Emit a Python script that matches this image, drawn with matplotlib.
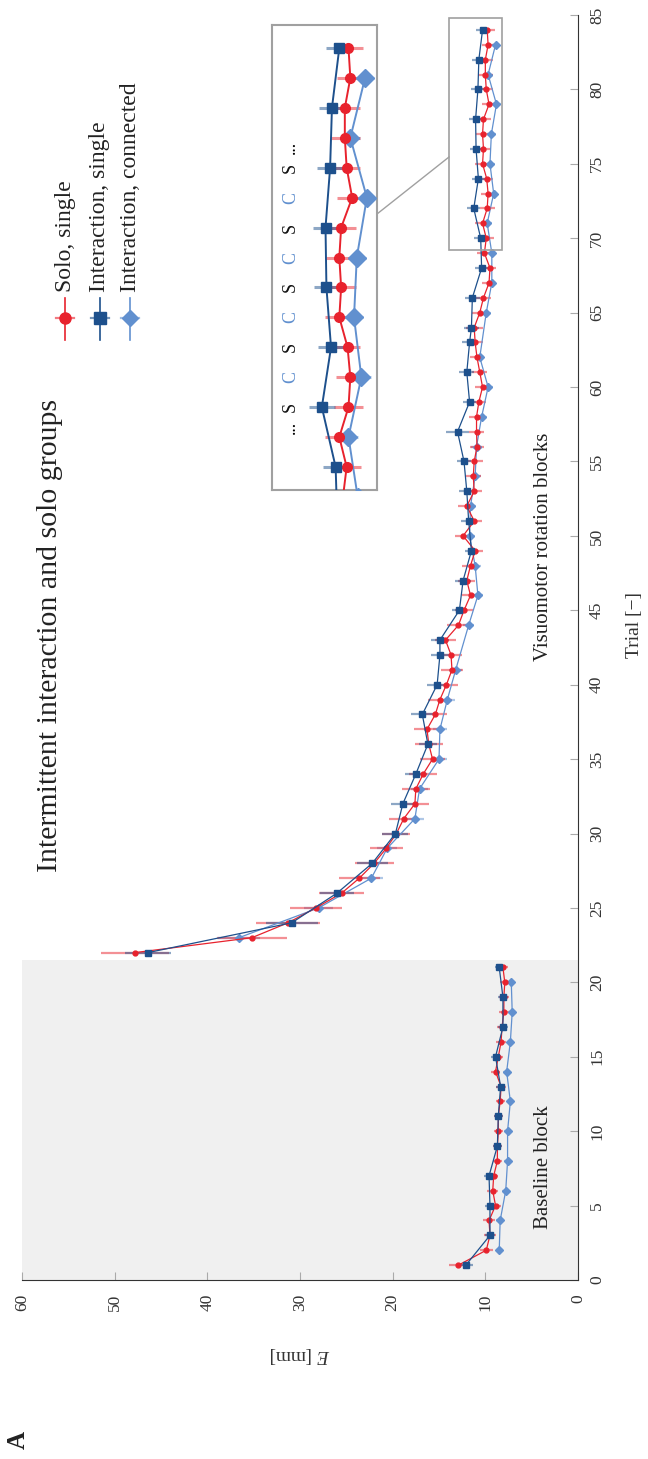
import matplotlib
matplotlib.use("Agg")
import matplotlib.pyplot as plt
from matplotlib.patches import Rectangle
from matplotlib.lines import Line2D

plt.rcParams['font.family'] = ['Liberation Serif', 'DejaVu Serif']
plt.rcParams['mathtext.fontset'] = 'custom'
plt.rcParams['mathtext.it'] = 'Liberation Serif:italic'
plt.rcParams['mathtext.rm'] = 'Liberation Serif'

# ---- data (E in mm per trial) ----
solo_trials = list(range(1, 85))
solo_E = [12.9, 9.9, 9.5, 9.6, 8.9, 9.2, 9.1, 8.7, 8.7, 8.6, 8.6, 8.4, 8.3, 8.9, 8.6, 8.3, 8.2, 8.0, 8.0, 7.9, 8.1,
          47.8, 35.2, 31.3, 28.3, 25.5, 23.6, 22.0, 20.7, 19.6, 18.8, 17.6, 17.5, 16.7, 15.7, 16.1, 16.3, 15.4, 14.9,
          14.2, 13.6, 13.7, 14.3, 12.9, 12.3, 11.6, 12.0, 11.6, 11.1, 12.4, 11.2, 12.0, 11.2, 11.3, 11.2, 10.9, 10.95,
          10.95, 10.7, 10.3, 10.6, 10.9, 11.1, 11.2, 10.6, 10.2, 9.6, 9.5, 10.1, 9.9, 10.3, 9.8, 9.7, 9.85, 10.3, 10.2,
          10.3, 10.2, 9.6, 9.9, 10.0, 10.0, 9.7, 9.8]
solo_err = [1.0, 0.7, 0.6, 0.6, 0.6, 0.6, 0.5, 0.5, 0.5, 0.5, 0.5, 0.5, 0.5, 0.5, 0.5, 0.5, 0.5, 0.5, 0.5, 0.5, 0.5,
            3.7, 3.8, 3.5, 2.8, 2.4, 2.2, 2.1, 1.8, 1.5, 1.6, 1.5, 1.5, 1.5, 1.4, 1.5, 1.4, 1.3, 1.3, 1.3, 1.2, 1.2,
            1.1, 1.2, 1.0, 0.9, 0.9, 0.9, 0.8, 0.9, 0.8, 0.9, 0.8, 0.8, 0.9, 0.8, 0.8, 0.8, 0.8, 0.8, 0.8, 0.8, 0.8,
            0.9, 0.8, 0.8, 0.8, 0.7, 0.8, 0.8, 0.8, 0.8, 0.8, 0.7, 0.8, 0.8, 0.7, 0.8, 0.8, 0.7, 0.8, 0.8, 0.7, 0.8]

single_trials = [1, 3, 5, 7, 9, 11, 13, 15, 17, 19, 21,
                 22, 24, 26, 28, 30, 32, 34, 36, 38, 40, 42,
                 43, 45, 47, 49, 51, 53, 55, 57, 59, 61, 63,
                 64, 66, 68, 70, 72, 74, 76, 78, 80, 82, 84]
single_E = [12.1, 9.5, 9.5, 9.6, 8.7, 8.6, 8.35, 8.9, 8.1, 8.1, 8.5,
            46.4, 30.9, 26.0, 22.2, 19.7, 18.9, 17.5, 16.2, 16.8, 15.2, 14.9,
            14.9, 12.8, 12.4, 11.5, 11.8, 12.0, 12.3, 13.0, 11.7, 12.0, 11.7,
            11.5, 11.4, 10.4, 10.5, 11.25, 10.75, 11.0, 11.05, 10.8, 10.7, 10.3]
single_err = [0.8, 0.5, 0.5, 0.5, 0.5, 0.5, 0.5, 0.5, 0.5, 0.5, 0.5,
              2.5, 2.8, 1.8, 1.7, 1.4, 1.3, 1.2, 1.0, 1.2, 1.1, 1.0,
              1.0, 0.8, 0.9, 0.7, 0.8, 0.8, 0.8, 1.2, 0.7, 0.8, 0.8,
              0.8, 0.8, 0.7, 0.7, 0.7, 0.7, 0.7, 0.7, 0.7, 0.7, 0.7]

conn_trials = [2, 4, 6, 8, 10, 12, 14, 16, 18, 20,
               23, 25, 27, 29, 31, 33, 35, 37, 39, 41,
               44, 46, 48, 50, 52, 54, 56, 58, 60, 62,
               65, 67, 69, 71, 73, 75, 77, 79, 81, 83]
conn_E = [8.5, 8.4, 7.8, 7.6, 7.6, 7.3, 7.7, 7.3, 7.1, 7.2,
          36.6, 28.0, 22.3, 20.6, 17.6, 17.1, 15.0, 14.9, 14.1, 13.2,
          11.8, 10.8, 11.1, 11.7, 11.6, 11.1, 10.95, 10.4, 9.7, 10.6,
          9.9, 9.3, 9.3, 9.8, 9.1, 9.5, 9.35, 8.8, 9.7, 8.9]
conn_err = [0.4, 0.4, 0.4, 0.4, 0.4, 0.4, 0.4, 0.4, 0.4, 0.4,
            2.3, 1.6, 1.3, 1.1, 1.0, 0.9, 0.9, 0.8, 0.8, 0.7,
            0.6, 0.6, 0.6, 0.6, 0.6, 0.6, 0.6, 0.6, 0.5, 0.5,
            0.5, 0.5, 0.5, 0.5, 0.5, 0.5, 0.5, 0.5, 0.5, 0.5]

series_names = ['Solo, single', 'Interaction, single', 'Interaction, connected']
RED, DARK, LIGHT = '#e8222d', '#1d508c', '#6190cf'

baseline_end = 21.5
zoom_E = (13.96, 8.25)
zoom_trials = (69.23, 84.77)
seq_trials = [72, 73, 74, 75, 76, 77, 78, 79, 80]
seq_labels = ['S', 'C', 'S', 'C', 'S', 'C', 'S', 'C', 'S']

W, H = 648, 1459
fig = plt.figure(figsize=(W / 100, H / 100), dpi=100)


def fx(x):
    return x / W


def fy(y):
    return 1 - y / H


def draw(a, trials, vals, errs, color, marker, ms, lw, elw):
    # baseline and rotation blocks are drawn as separate lines
    for part in (lambda t: t <= baseline_end, lambda t: t > baseline_end):
        idx = [i for i, t in enumerate(trials) if part(t)]
        tt = [trials[i] for i in idx]
        vv = [vals[i] for i in idx]
        ee = [errs[i] for i in idx]
        a.errorbar(vv, tt, xerr=ee, fmt='none', ecolor=color, elinewidth=elw, alpha=0.5, zorder=2)
        a.plot(vv, tt, color=color, lw=lw, marker=marker, ms=ms, mfc=color, mec=color, zorder=3)


ax = fig.add_axes([fx(22), fy(1280), fx(578) - fx(22), fy(15) - fy(1280)])
ax.axhspan(0, baseline_end, color='#f0f0f0', lw=0, zorder=0)
draw(ax, conn_trials, conn_E, conn_err, LIGHT, 'D', 4.5, 0.9, 1.6)
draw(ax, solo_trials, solo_E, solo_err, RED, 'o', 3.5, 0.9, 1.6)
draw(ax, single_trials, single_E, single_err, DARK, 's', 4.0, 0.9, 1.6)
ax.set_xlim(60, 0)
ax.set_ylim(0, 85)
for s in ('top', 'left'):
    ax.spines[s].set_visible(False)
ax.yaxis.tick_right()
ax.spines['right'].set_color('#333333')
ax.spines['bottom'].set_color('#333333')
ax.set_xticks(range(0, 61, 10))
ax.set_yticks(range(0, 86, 5))
ax.tick_params(direction='in', length=6, color='#aaaaaa', labelsize=12.5, labelcolor='#333333')
ax.tick_params(axis='y', pad=8)
ax.tick_params(axis='x', pad=10)
for lab in ax.get_xticklabels():
    lab.set_rotation(90)
    lab.set_va('top')
    lab.set_ha('center')
for lab in ax.get_yticklabels():
    lab.set_rotation(90)
    lab.set_va('center')
    lab.set_ha('left')

ax.add_patch(Rectangle((zoom_E[1], zoom_trials[0]), zoom_E[0] - zoom_E[1], zoom_trials[1] - zoom_trials[0],
                       fill=False, ec='#a0a0a0', lw=1.2, zorder=4))

# zoomed inset
axi = fig.add_axes([fx(272), fy(490), fx(377) - fx(272), fy(25) - fy(490)])
draw(axi, conn_trials, conn_E, conn_err, LIGHT, 'D', 9, 1.4, 2.2)
draw(axi, solo_trials, solo_E, solo_err, RED, 'o', 7, 1.4, 2.2)
draw(axi, single_trials, single_E, single_err, DARK, 's', 7.5, 1.4, 2.2)
axi.set_xlim(*zoom_E)
axi.set_ylim(*zoom_trials)
axi.set_xticks([])
axi.set_yticks([])
for s in axi.spines.values():
    s.set_color('#a0a0a0')
    s.set_linewidth(1.5)
for t, lab in zip(seq_trials, seq_labels):
    axi.text(12.95, t, lab, rotation=90, ha='center', va='center', fontsize=13,
             color='#111111' if lab == 'S' else LIGHT)
axi.text(12.95, seq_trials[0] - 0.45, '...', rotation=90, ha='center', va='top', fontsize=13)
axi.text(12.95, seq_trials[-1] + 0.45, '...', rotation=90, ha='center', va='bottom', fontsize=13)

fig.add_artist(Line2D([fx(377), fx(449)], [fy(214), fy(157)], color='#a0a0a0', lw=1.0))

# legend drawn by hand (rotated figure)
leg_x = [65, 100, 130]
leg_style = [(RED, 'o', 8), (DARK, 's', 8), (LIGHT, 'D', 8)]
for x, name, (c, m, ms) in zip(leg_x, series_names, leg_style):
    fig.add_artist(Line2D([fx(x), fx(x)], [fy(298), fy(340)], color=c, lw=1.2))
    fig.add_artist(Line2D([fx(x - 9), fx(x + 9)], [fy(318), fy(318)], color=c, lw=1.6, alpha=0.6))
    fig.add_artist(Line2D([fx(x)], [fy(318)], color=c, marker=m, ms=ms, mfc=c, mec=c))
    fig.text(fx(x), fy(292), name, rotation=90, ha='center', va='bottom', fontsize=17, color='#222222')

fig.text(fx(50), fy(635), 'Intermittent interaction and solo groups', rotation=90,
         ha='center', va='center', fontsize=21.5, color='#222222')
fig.text(fx(543), fy(547), 'Visuomotor rotation blocks', rotation=90,
         ha='center', va='center', fontsize=15, color='#222222')
fig.text(fx(543), fy(1167), 'Baseline block', rotation=90,
         ha='center', va='center', fontsize=15, color='#222222')
fig.text(fx(635), fy(625), 'Trial [\u2212]', rotation=90, ha='center', va='center', fontsize=14, color='#333333')
fig.text(fx(300), fy(1355), '$E$ [mm]', rotation=180, ha='center', va='center', fontsize=14, color='#333333')
fig.text(fx(18), fy(1440), 'A', rotation=90, ha='center', va='center', fontsize=18, fontweight='bold',
         color='#222222')

fig.savefig('out.png', dpi=100)
